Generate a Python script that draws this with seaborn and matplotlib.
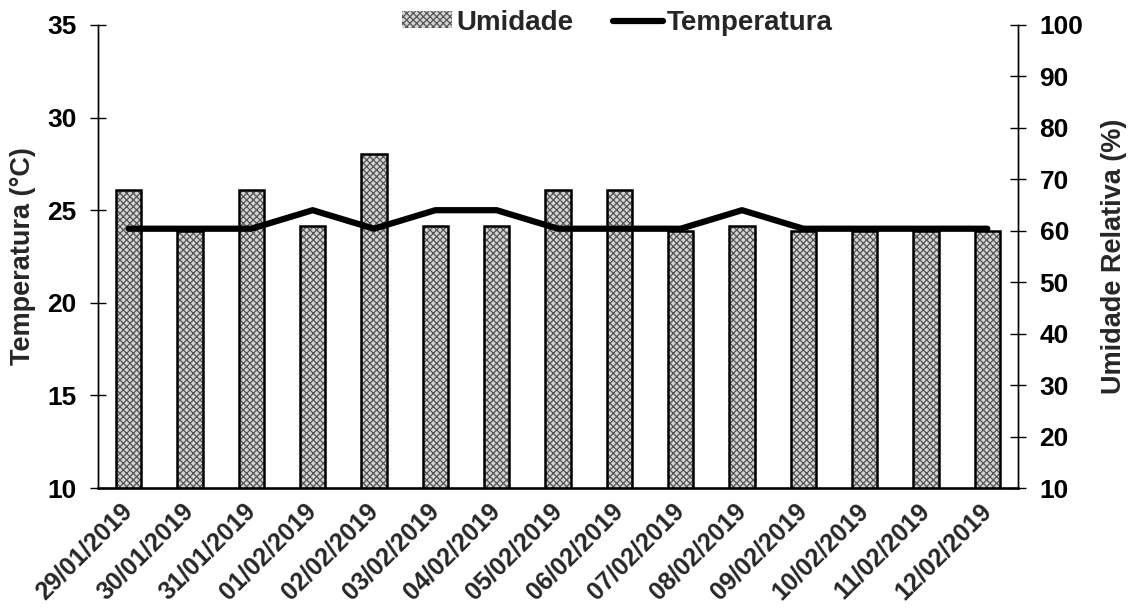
import matplotlib.pyplot as plt
import numpy as np
import seaborn as sns

dates = ["29/01/2019", "30/01/2019", "31/01/2019", "01/02/2019", "02/02/2019",
         "03/02/2019", "04/02/2019", "05/02/2019", "06/02/2019", "07/02/2019",
         "08/02/2019", "09/02/2019", "10/02/2019", "11/02/2019", "12/02/2019"]
umidade = [68, 60, 68, 61, 75, 61, 61, 68, 68, 60, 61, 60, 60, 60, 60]
temperatura = [24, 24, 24, 25, 24, 25, 25, 24, 24, 24, 25, 24, 24, 24, 24]

sns.set_theme(style="white")
plt.rcParams["font.family"] = ["Liberation Sans", "DejaVu Sans"]
plt.rcParams["font.weight"] = "bold"
plt.rcParams["hatch.linewidth"] = 0.9

fig = plt.figure(figsize=(11.33, 6.14), dpi=100)
ax_h = fig.add_axes([0.0865, 0.2052, 0.812, 0.7541])
ax_t = ax_h.twinx()

# bars (umidade) on the base axes so the line sits on top
sns.barplot(x=dates, y=umidade, ax=ax_h, color="#d4d4d4", width=0.41,
            edgecolor="#555555", linewidth=0, hatch="xxxxx")
sns.barplot(x=dates, y=umidade, ax=ax_h, fill=False, width=0.41,
            edgecolor="black", linewidth=1.8)
sns.lineplot(x=np.arange(len(dates)), y=temperatura, ax=ax_t, color="black",
             linewidth=4.5, sort=False)

ax_h.set_ylim(10, 100)
ax_h.set_yticks(range(10, 101, 10))
ax_t.set_ylim(10, 35)
ax_t.set_yticks(range(10, 36, 5))
ax_h.set_xlim(-0.5, len(dates) - 0.5)

# humidity axis on the right, temperature on the left
ax_h.yaxis.tick_right()
ax_h.yaxis.set_label_position("right")
ax_t.yaxis.tick_left()
ax_t.yaxis.set_label_position("left")

ax_h.set_ylabel("Umidade Relativa (%)", fontsize=19.5, fontweight="bold",
                labelpad=13)
ax_t.set_ylabel("Temperatura (°C)", fontsize=19.5, fontweight="bold",
                labelpad=8)
ax_h.set_xlabel("")
ax_t.set_xlabel("")

for ax in (ax_h, ax_t):
    ax.tick_params(axis="y", direction="inout", length=11, width=1,
                   labelsize=19, pad=10, colors="black")
    ax.spines["top"].set_visible(False)
    for s in ax.spines.values():
        s.set_color("black")
        s.set_linewidth(1)
ax_h.spines["bottom"].set_linewidth(1.8)
ax_h.tick_params(axis="x", length=0, labelsize=18, pad=14)
ax_h.set_xticks(range(len(dates)))
ax_h.set_xticklabels(dates, rotation=45, ha="right", va="center",
                     rotation_mode="anchor", fontweight="bold")

handles = [ax_h.patches[0], ax_t.lines[0]]
fig.legend(handles, ["Umidade", "Temperatura"], loc="upper center",
           bbox_to_anchor=(0.545, 1.025), ncol=2, frameon=False,
           prop={"size": 20, "weight": "bold"}, handlelength=1.8,
           handleheight=0.55, columnspacing=1.4, handletextpad=0.15)

fig.savefig("out.png", dpi=100)
